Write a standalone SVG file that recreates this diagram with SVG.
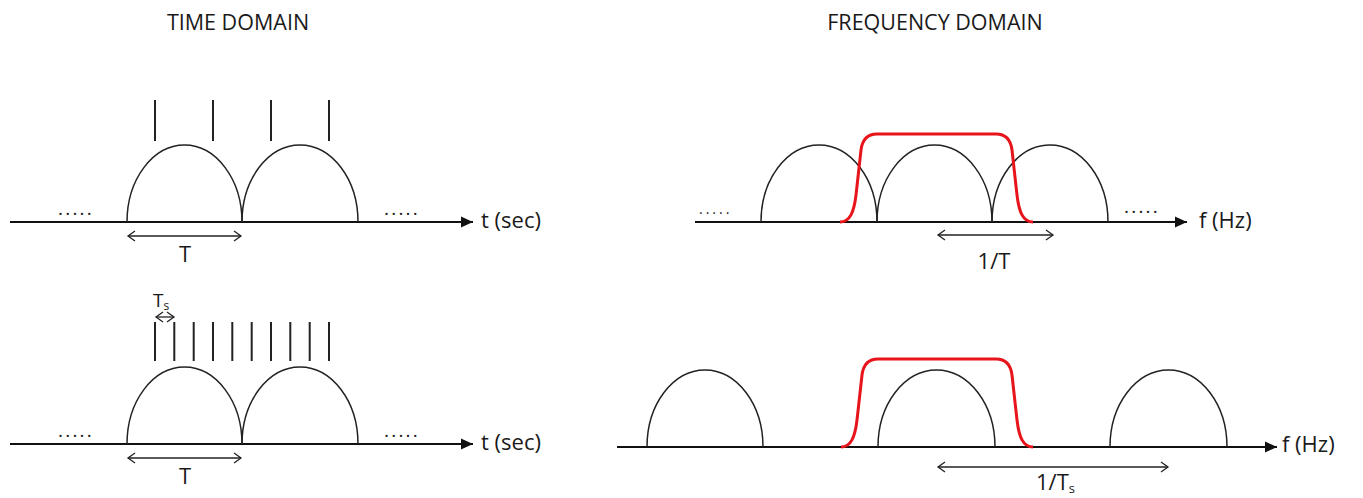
<svg xmlns="http://www.w3.org/2000/svg" width="1363" height="498" viewBox="0 0 1363 498">
<style>
text{font-family:"Open Sans","Liberation Sans",sans-serif;fill:#1a1a1a}
.t{font-size:22px}
.ttl{font-size:21.5px;text-anchor:middle}
.dots{font-size:19px;letter-spacing:2.2px}
.ax{stroke:#111;stroke-width:1.8;fill:none}
.arch{stroke:#222;stroke-width:1.5;fill:none}
.imp{stroke:#222;stroke-width:2;fill:none}
.red{stroke:#e8141c;stroke-width:3;fill:none;stroke-linejoin:round}
.dim{stroke:#222;stroke-width:1.3;fill:none}
</style>
<defs>
<marker id="ah" markerUnits="userSpaceOnUse" markerWidth="13" markerHeight="12" refX="12" refY="6" orient="auto"><path d="M0,0.5 L12,6 L0,11.5 z" fill="#111"/></marker>
<marker id="ch" markerUnits="userSpaceOnUse" markerWidth="10" markerHeight="12" refX="8" refY="6" orient="auto-start-reverse"><path d="M1,1 L8,6 L1,11" fill="none" stroke="#222" stroke-width="1.3"/></marker>
</defs>

<g id="titles">
<text class="ttl" x="238" y="30">TIME DOMAIN</text>
<text class="ttl" x="935" y="30">FREQUENCY DOMAIN</text>
</g>

<g id="connectors">
<line class="ax" x1="10" y1="222" x2="473" y2="222" marker-end="url(#ah)"/>
<line class="ax" x1="10" y1="444" x2="473" y2="444" marker-end="url(#ah)"/>
<line class="ax" x1="695" y1="222" x2="1187" y2="222" marker-end="url(#ah)"/>
<line class="ax" x1="617" y1="447" x2="1277" y2="447" marker-end="url(#ah)"/>
<line class="dim" x1="128" y1="236" x2="241" y2="236" marker-start="url(#ch)" marker-end="url(#ch)"/>
<line class="dim" x1="128" y1="458" x2="241" y2="458" marker-start="url(#ch)" marker-end="url(#ch)"/>
<line class="dim" x1="156" y1="317" x2="174" y2="317" marker-start="url(#ch)" marker-end="url(#ch)"/>
<line class="dim" x1="938" y1="235" x2="1053" y2="235" marker-start="url(#ch)" marker-end="url(#ch)"/>
<line class="dim" x1="938" y1="467" x2="1168" y2="467" marker-start="url(#ch)" marker-end="url(#ch)"/>
</g>

<g id="time-top">
<path class="arch" d="M127,222 A57.5,77 0 0 1 242,222"/>
<path class="arch" d="M242,222 A58,77 0 0 1 358,222"/>
<g class="imp">
<line x1="155" y1="100" x2="155" y2="141"/>
<line x1="213" y1="100" x2="213" y2="141"/>
<line x1="271" y1="100" x2="271" y2="141"/>
<line x1="329" y1="100" x2="329" y2="141"/>
</g>
<text class="dots" x="58" y="215">.....</text>
<text class="dots" x="384" y="215">.....</text>
<text class="t" x="481" y="228">t (sec)</text>
<text class="t" x="185" y="262" text-anchor="middle">T</text>
</g>

<g id="time-bottom">
<path class="arch" d="M127,444 A57.5,77 0 0 1 242,444"/>
<path class="arch" d="M242,444 A58,77 0 0 1 358,444"/>
<g class="imp">
<line x1="155" y1="322" x2="155" y2="361"/>
<line x1="174.3" y1="322" x2="174.3" y2="361"/>
<line x1="193.7" y1="322" x2="193.7" y2="361"/>
<line x1="213" y1="322" x2="213" y2="361"/>
<line x1="232.3" y1="322" x2="232.3" y2="361"/>
<line x1="251.7" y1="322" x2="251.7" y2="361"/>
<line x1="271" y1="322" x2="271" y2="361"/>
<line x1="290.3" y1="322" x2="290.3" y2="361"/>
<line x1="309.7" y1="322" x2="309.7" y2="361"/>
<line x1="329" y1="322" x2="329" y2="361"/>
</g>
<text class="dots" x="58" y="437">.....</text>
<text class="dots" x="384" y="437">.....</text>
<text class="t" x="481" y="450">t (sec)</text>
<text class="t" x="185" y="484" text-anchor="middle">T</text>
<text x="153" y="307" font-size="19">T<tspan font-size="12" dy="3">s</tspan></text>
</g>

<g id="freq-top">
<path class="arch" d="M761,222 A58,77 0 0 1 877,222"/>
<path class="arch" d="M877,222 A57.5,77 0 0 1 992,222"/>
<path class="arch" d="M992,222 A58,77 0 0 1 1108,222"/>
<path class="red" d="M840,222 C850,222 854,212 856,195 L861,150 Q863,134 877,134 L996,134 Q1010,134 1012,150 L1017,195 C1019,212 1023,222 1033,222"/>
<text class="dots" x="699" y="214" style="font-size:14px;letter-spacing:3px">.....</text>
<text class="dots" x="1124" y="213">.....</text>
<text class="t" x="1199" y="228">f (Hz)</text>
<text class="t" x="994" y="269" text-anchor="middle">1/T</text>
</g>

<g id="freq-bottom">
<path class="arch" d="M647,447 A58,77 0 0 1 763,447"/>
<path class="arch" d="M878,447 A58.5,77 0 0 1 995,447"/>
<path class="arch" d="M1110,447 A58.5,77 0 0 1 1227,447"/>
<path class="red" d="M841,447 C851,447 855,437 857,420 L862,375 Q864,359 878,359 L996,359 Q1010,359 1012,375 L1017,420 C1019,437 1023,447 1033,447"/>
<text class="t" x="1282" y="452">f (Hz)</text>
<text class="t" x="1036" y="490">1/T<tspan font-size="13" dy="3">s</tspan></text>
</g>
</svg>
